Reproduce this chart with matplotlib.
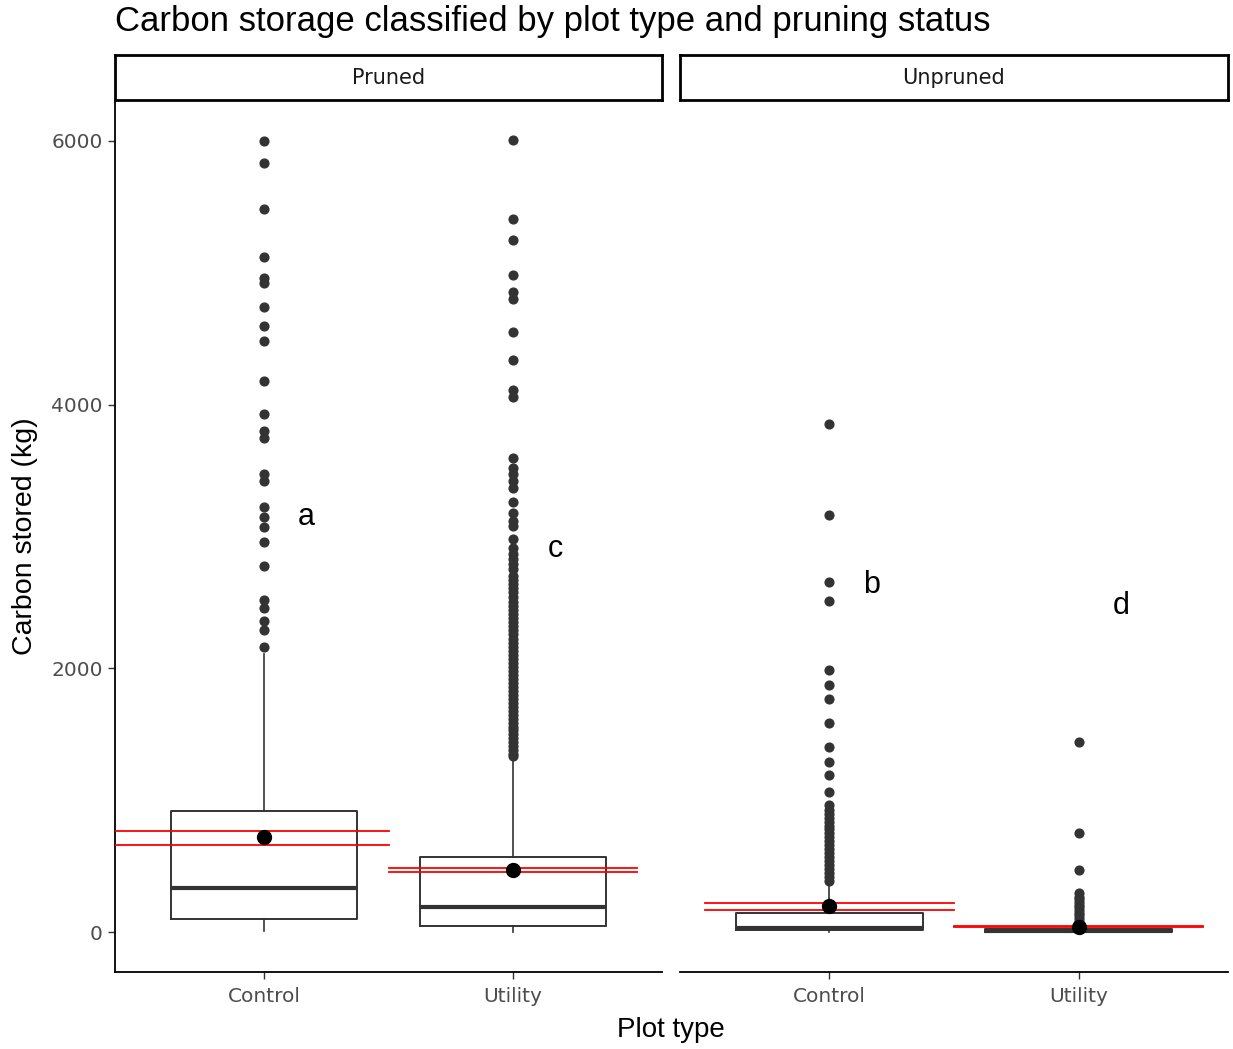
import matplotlib
matplotlib.use("Agg")
import matplotlib.pyplot as plt

plt.rcParams['font.family'] = ['Liberation Sans', 'DejaVu Sans']

# ---------------- data ----------------
panels = ["Pruned", "Unpruned"]
categories = ["Control", "Utility"]

# box statistics: [whislo, q1, median, q3, whishi]
pruned_control_box = [10, 98, 333, 917, 2110]
pruned_utility_box = [5, 51, 195, 573, 1320]
unpruned_control_box = [0, 20, 32, 144, 375]
unpruned_utility_box = [0, 0, 8, 25, 45]

pruned_control_out = [6000, 5830, 5485, 5120, 4960, 4920, 4740, 4595, 4480, 4175,
                      3925, 3800, 3745, 3477, 3420, 3225, 3150, 3075, 2955, 2775,
                      2520, 2455, 2360, 2290, 2165]
pruned_utility_out = [6008, 5409, 5250, 4980, 4854, 4803, 4551, 4341, 4109, 4058,
                      3598, 3518, 3470, 3424, 3366, 3263, 3177, 3121, 3083, 2980,
                      2910, 2870, 2830, 2790, 2750, 2700, 2670, 2640, 2610, 2580,
                      2545, 2500, 2470, 2440, 2410, 2380, 2350, 2320, 2290, 2260,
                      2220, 2190, 2160, 2130, 2100, 2070, 2040, 2010, 1980, 1950,
                      1920, 1890, 1860, 1830, 1800, 1770, 1740, 1710, 1680, 1650,
                      1620, 1590, 1560, 1530, 1500, 1470, 1440, 1410, 1380, 1350, 1335]
unpruned_control_out = [3851, 3162, 2657, 2510, 1987, 1874, 1765, 1589, 1407, 1293,
                        1192, 1066, 964, 930, 900, 870, 840, 810, 780, 750, 720,
                        690, 660, 630, 600, 570, 540, 510, 480, 450, 420, 390]
unpruned_utility_out = [1440, 750, 470, 295, 270, 250, 230, 210, 190, 170, 150,
                        130, 110, 90, 70, 55]

means = {"Pruned": [720, 475], "Unpruned": [200, 43]}
ci_upper = {"Pruned": [767, 487], "Unpruned": [220, 50]}
ci_lower = {"Pruned": [664, 455], "Unpruned": [172, 38]}
letters = {"Pruned": ["a", "c"], "Unpruned": ["b", "d"]}
letter_y = {"Pruned": [3144, 2902], "Unpruned": [2629, 2477]}

boxes = {"Pruned": [pruned_control_box, pruned_utility_box],
         "Unpruned": [unpruned_control_box, unpruned_utility_box]}
outs = {"Pruned": [pruned_control_out, pruned_utility_out],
        "Unpruned": [unpruned_control_out, unpruned_utility_out]}

yticks = [0, 2000, 4000, 6000]

# ---------------- figure ----------------
W, H = 1233, 1049
fig = plt.figure(figsize=(W / 100, H / 100), dpi=100)

def fx(px):
    return px / W

def fy(py):
    return 1 - py / H

panel_x = [(115, 662), (680, 1228)]
p_top, p_bot = 101, 972
s_top = 55

grey = "#333333"
tick_font = dict(family=['DejaVu Sans'], size=14.5)
for i, panel in enumerate(panels):
    x0, x1 = panel_x[i]
    ax = fig.add_axes([fx(x0), fy(p_bot), fx(x1 - x0), (p_bot - p_top) / H])
    stats = []
    for j, cat in enumerate(categories):
        b = boxes[panel][j]
        stats.append(dict(whislo=b[0], q1=b[1], med=b[2], q3=b[3], whishi=b[4],
                          fliers=outs[panel][j], label=cat))
    ax.bxp(stats, positions=[1, 2], widths=0.75, showcaps=False,
           boxprops=dict(color=grey, linewidth=1.4),
           whiskerprops=dict(color=grey, linewidth=1.2),
           medianprops=dict(color=grey, linewidth=3),
           flierprops=dict(marker='o', markerfacecolor=grey, markeredgecolor=grey,
                           markersize=6.3, linestyle='none'))
    # red interval lines
    seg = [(0.4 if panel == "Pruned" else 0.5, 1.5), (1.5, 2.5)]
    for j in range(2):
        for v in (ci_upper[panel][j], ci_lower[panel][j]):
            ax.plot(seg[j], [v, v], color="red", linewidth=1.3, zorder=4)
        ax.plot([j + 1], [means[panel][j]], marker='o', color='black',
                markersize=10, zorder=5)
        ax.text(j + 1 + 0.17, letter_y[panel][j], letters[panel][j],
                fontsize=22, ha='center', va='center', color='black')
    ax.set_xlim(0.4, 2.6)
    ax.set_ylim(-300, 6300)
    ax.set_xticks([1, 2])
    ax.set_xticklabels(categories, color="#4d4d4d", **tick_font)
    ax.tick_params(axis='x', length=5, color=grey, width=1, pad=6)
    for s in ("top", "right"):
        ax.spines[s].set_visible(False)
    ax.spines["bottom"].set_linewidth(1.3)
    ax.spines["bottom"].set_color("black")
    if i == 0:
        ax.set_yticks(yticks)
        ax.set_yticklabels([str(t) for t in yticks], color="#4d4d4d", **tick_font)
        ax.tick_params(axis='y', length=5, color=grey, width=1, pad=4)
        ax.spines["left"].set_linewidth(1.3)
        ax.spines["left"].set_color("black")
    else:
        ax.set_yticks([])
        ax.spines["left"].set_visible(False)

    # strip
    sax = fig.add_axes([fx(x0), fy(p_top - 1), fx(x1 - x0), (p_top - 1 - s_top) / H])
    sax.set_xticks([])
    sax.set_yticks([])
    for s in sax.spines.values():
        s.set_linewidth(2)
        s.set_color("black")
    sax.text(0.5, 0.5, panel, ha='center', va='center', family=['DejaVu Sans'],
             fontsize=15, color="#1a1a1a", transform=sax.transAxes)

fig.text(fx(115), fy(22), "Carbon storage classified by plot type and pruning status",
         fontsize=25, ha='left', va='center', color='black')
fig.text(fx(25), fy(536), "Carbon stored (kg)", rotation=90, fontsize=20.5,
         ha='center', va='center', color='black')
fig.text(fx(671), fy(1030), "Plot type", fontsize=20, ha='center', va='center',
         color='black')

fig.savefig("out.png", dpi=100)
